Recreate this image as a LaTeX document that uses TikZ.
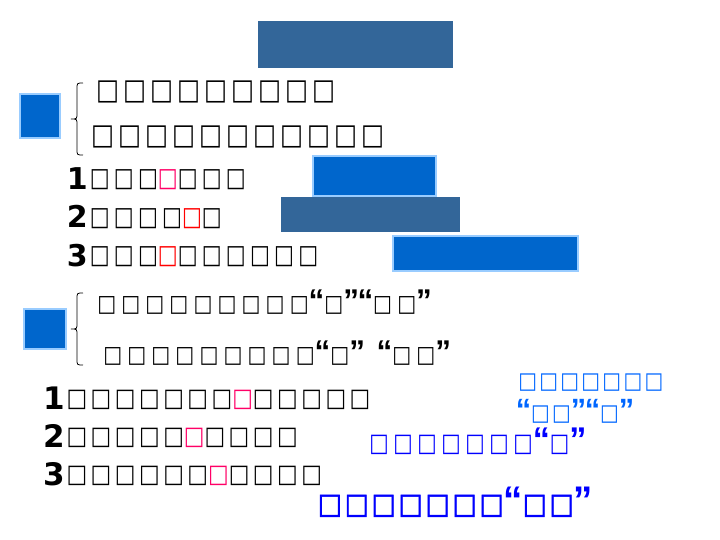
\documentclass[tikz,border=0pt]{standalone}
\usepackage{fontspec}
\setmainfont{DejaVu Sans}
\newfontfamily\tofuA[FakeStretch=0.84,LetterSpace=14]{DejaVu Sans}
\newfontfamily\tofuB[FakeStretch=0.80,LetterSpace=16]{DejaVu Sans}
\newfontfamily\tofuC[FakeStretch=0.86,LetterSpace=22]{DejaVu Sans}
\newfontfamily\tofuD[FakeStretch=0.86,LetterSpace=14]{DejaVu Sans}
\newfontfamily\tofuE[FakeStretch=0.87,LetterSpace=10]{DejaVu Sans}
\newfontfamily\tofuF[FakeStretch=0.81,LetterSpace=18]{DejaVu Sans}
\newfontfamily\tofuG[FakeStretch=0.89,LetterSpace=10.5,FakeBold=2]{DejaVu Sans}
\newfontfamily\qf[Scale=1.35,LetterSpace=-5]{Liberation Sans}
\newcommand\myLQ{{\qf\bfseries“}}
\newcommand\myRQ{{\qf\bfseries”}}
\definecolor{steel}{HTML}{336699}
\definecolor{bfill}{HTML}{0066CC}
\definecolor{bline}{HTML}{99CCFF}
\definecolor{pinkred}{HTML}{FF0066}
\definecolor{pred}{HTML}{FF0000}
\definecolor{ltblue}{HTML}{0066FF}
\definecolor{dblue}{HTML}{0000FF}
\begin{document}
\begin{tikzpicture}[x=1pt,y=-1pt,
  every node/.style={inner sep=0pt,anchor=base west},
  bar/.style={fill=steel,draw=none},
  btn/.style={fill=bfill,draw=bline,line width=1.5pt},
  brace/.style={draw=black,line width=0.8pt},
  hdr/.style={font=\tofuA\fontsize{29}{29}\selectfont},
  item/.style={font=\tofuB\fontsize{26.3}{26.3}\selectfont},
  num/.style={font=\bfseries\fontsize{30}{30}\selectfont},
  numb/.style={font=\bfseries\fontsize{31}{31}\selectfont},
  sub/.style={font=\tofuC\fontsize{23.3}{23.3}\selectfont},
  itemb/.style={font=\tofuD\fontsize{25.4}{25.4}\selectfont},
  bt1/.style={font=\tofuE\fontsize{22.8}{22.8}\selectfont,text=ltblue},
  bt3/.style={font=\tofuF\fontsize{25.4}{25.4}\selectfont,text=dblue},
  bt4/.style={font=\tofuG\fontsize{28.5}{28.5}\selectfont,text=dblue}]
\useasboundingbox (0,0) rectangle (720,540);
% section 1
\draw[bar] (258,21) rectangle (453,68);
\draw[btn] (20,94) rectangle (60,138);
\draw[brace] (83,83) .. controls (77,83) .. (77,89) -- (77,113) .. controls (77,119) .. (71,119) .. controls (77,119) .. (77,125) -- (77,149) .. controls (77,155) .. (83,155);
\node[hdr] (h1) at (95.8,99.6) {□□□□□□□□□};
\node[hdr] (h2) at (90.8,144.6) {□□□□□□□□□□□};
\node[num] (n1) at (66.7,190) {1};
\node[item] (r1) at (89.7,186.9) {□□□\textcolor{pinkred}{□}□□□};
\node[num] (n2) at (66.7,228) {2};
\node[item] (r2) at (89.7,225.2) {□□□□\textcolor{pred}{□}□};
\node[num] (n3) at (66.7,266.5) {3};
\node[item] (r3) at (89.7,263.6) {□□□\textcolor{pred}{□}□□□□□□};
\draw[btn] (313,156) rectangle (436,196);
\draw[bar] (281,197) rectangle (460,232);
\draw[btn] (393,236) rectangle (578,271);
% section 2
\draw[btn] (24,309) rectangle (66,349);
\draw[brace] (83,293) .. controls (77,293) .. (77,299) -- (77,323) .. controls (77,329) .. (71,329) .. controls (77,329) .. (77,335) -- (77,359) .. controls (77,365) .. (83,365);
\node[sub] (s1) at (97.1,311.6) {□□□□□□□□□\myLQ□\myRQ\myLQ□□\myRQ};
\node[sub] (s2) at (103.1,362.3) {□□□□□□□□□\myLQ□\myRQ{} \myLQ□□\myRQ};
\node[numb] (m1) at (43.4,409) {1};
\node[itemb] (p1) at (66.3,406.3) {□□□□□□□\textcolor{pinkred}{□}□□□□□};
\node[numb] (m2) at (43.4,447) {2};
\node[itemb] (p2) at (66.3,444.3) {□□□□□\textcolor{pinkred}{□}□□□□};
\node[numb] (m3) at (43.4,485) {3};
\node[itemb] (p3) at (66.3,482) {□□□□□□\textcolor{pinkred}{□}□□□□};
\node[bt1] (b1) at (518.2,388) {□□□□□□□};
\node[bt1] (b2) at (515.6,420.6) {\myLQ□□\myRQ\myLQ□\myRQ};
\node[bt3] (b3) at (369.1,451.3) {□□□□□□□\myLQ□\myRQ};
\node[bt4] (b4) at (317.6,513.3) {□□□□□□□\myLQ□□\myRQ};
\end{tikzpicture}
\end{document}
